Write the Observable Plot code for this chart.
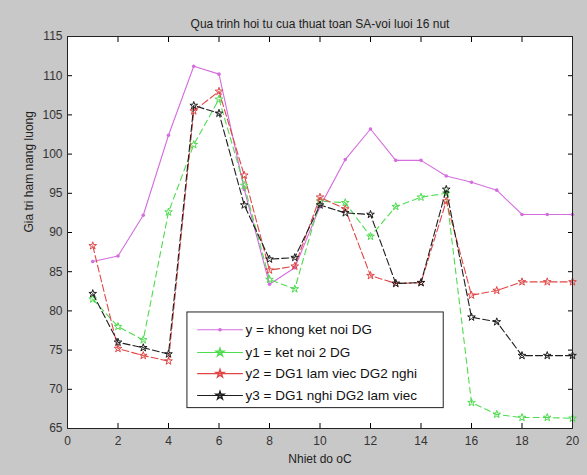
<!DOCTYPE html>
<html><head><meta charset="utf-8">
<script src="https://cdn.jsdelivr.net/npm/d3@7"></script>
<script src="https://cdn.jsdelivr.net/npm/@observablehq/plot@0.6"></script>
<style>body{margin:0;background:#c8c8c8}</style>
</head><body><div id="chart"></div>
<script>
const xs = [1,2,3,4,5,6,7,8,9,10,11,12,13,14,15,16,17,18,19,20];
const yVals  = [86.3,87.0,92.2,102.4,111.2,110.2,95.5,83.4,85.5,93.3,99.3,103.2,99.2,99.2,97.2,96.4,95.4,92.3,92.3,92.3];
const y1Vals = [81.5,78.0,76.3,92.6,101.2,107.0,96.0,84.0,82.8,94.0,93.8,89.5,93.3,94.5,95.0,68.3,66.8,66.4,66.4,66.3];
const y2Vals = [88.3,75.2,74.3,73.6,105.5,108.0,97.3,85.2,85.7,94.5,93.0,84.5,83.5,83.6,94.0,82.0,82.6,83.7,83.7,83.7];
const y3Vals = [82.2,76.0,75.3,74.5,106.2,105.2,93.5,86.6,86.8,93.5,92.5,92.3,83.5,83.6,95.5,79.2,78.6,74.3,74.3,74.3];
const seriesNames = ["y = khong ket noi DG","y1 = ket noi 2 DG","y2 = DG1 lam viec DG2 nghi","y3 = DG1 nghi DG2 lam viec"];
const xTicks = [0,2,4,6,8,10,12,14,16,18,20];
const yTicks = [65,70,75,80,85,90,95,100,105,110,115];
const titleText = "Qua trinh hoi tu cua thuat toan SA-voi luoi 16 nut";
const xLabel = "Nhiet do oC";
const yLabel = "Gia tri ham nang luong";

const colors = ["#d46ede","#4fdc4f","#e04646","#1e1e1e"];
const dashes = [null,"6,4","7,3","7,3"];
const allVals = [yVals,y1Vals,y2Vals,y3Vals];
const data = allVals.map((vals,i)=>vals.map((v,j)=>({x:xs[j],y:v,s:i})));

// legend layout (data coordinates inside the plot box)
const legRows = [77.6,74.7,72.0,69.2];
const legend = seriesNames.map((n,i)=>({name:n,y:legRows[i],s:i}));

const font = "'Liberation Sans', Arial, sans-serif";
const starR = 2.4;
const marks = [
  Plot.frame({fill:"white"}),
];
data.forEach((d,i)=>{
  marks.push(Plot.line(d,{x:"x",y:"y",stroke:colors[i],strokeWidth:1.1,strokeDasharray:dashes[i]}));
  if(i===0) marks.push(Plot.dot(d,{x:"x",y:"y",r:1.8,fill:colors[i]}));
  else marks.push(Plot.dot(d,{x:"x",y:"y",r:starR,symbol:"star",stroke:colors[i],fill:"none",strokeWidth:1}));
});
// legend
marks.push(Plot.rect([{x1:4.75,x2:14.9,y1:67.6,y2:79.8}],{x1:"x1",x2:"x2",y1:"y1",y2:"y2",fill:"white",stroke:"#222",strokeWidth:1}));
legend.forEach((l,i)=>{
  marks.push(Plot.line([{x:5.15,y:l.y},{x:6.93,y:l.y}],{x:"x",y:"y",stroke:colors[i],strokeWidth:1.1}));
  if(i===0) marks.push(Plot.dot([{x:6.04,y:l.y}],{x:"x",y:"y",r:1.8,fill:colors[i]}));
  else marks.push(Plot.dot([{x:6.04,y:l.y}],{x:"x",y:"y",r:starR,symbol:"star",stroke:colors[i],fill:"none"}));
});
marks.push(Plot.text(legend,{x:()=>7.05,y:"y",text:"name",textAnchor:"start",fontSize:13.5,fill:"#111"}));

// axes: inward ticks on all four sides, labels bottom/left
marks.push(Plot.axisX(xTicks,{anchor:"bottom",tickSize:-5,tickFormat:()=>"",label:null}));
marks.push(Plot.axisX(xTicks,{anchor:"top",tickSize:-5,tickFormat:()=>"",label:null}));
marks.push(Plot.axisY(yTicks,{anchor:"left",tickSize:-5,tickFormat:()=>"",label:null}));
marks.push(Plot.axisY(yTicks,{anchor:"right",tickSize:-5,tickFormat:()=>"",label:null}));
marks.push(Plot.axisX(xTicks,{anchor:"bottom",tickSize:0,tickPadding:8,label:null,fontSize:12,fill:"#333"}));
marks.push(Plot.axisY(yTicks,{anchor:"left",tickSize:0,tickPadding:5,label:null,fontSize:12,fill:"#333"}));
marks.push(Plot.frame({stroke:"#222",strokeWidth:1}));
marks.push(Plot.text([titleText],{frameAnchor:"top",dy:-17,fontSize:12,fill:"#222"}));
marks.push(Plot.text([xLabel],{frameAnchor:"bottom",dy:34,fontSize:12,fill:"#222"}));
marks.push(Plot.text([yLabel],{frameAnchor:"left",rotate:-90,dx:-38,fontSize:12,fill:"#222"}));

const chart = Plot.plot({
  width:587,height:475,
  marginLeft:67,marginRight:15,marginTop:36,marginBottom:47,
  style:{background:"#c8c8c8",fontFamily:font,overflow:"visible"},
  x:{domain:[0,20]},
  y:{domain:[65,115]},
  marks
});
document.getElementById("chart").appendChild(chart);
</script></body></html>
